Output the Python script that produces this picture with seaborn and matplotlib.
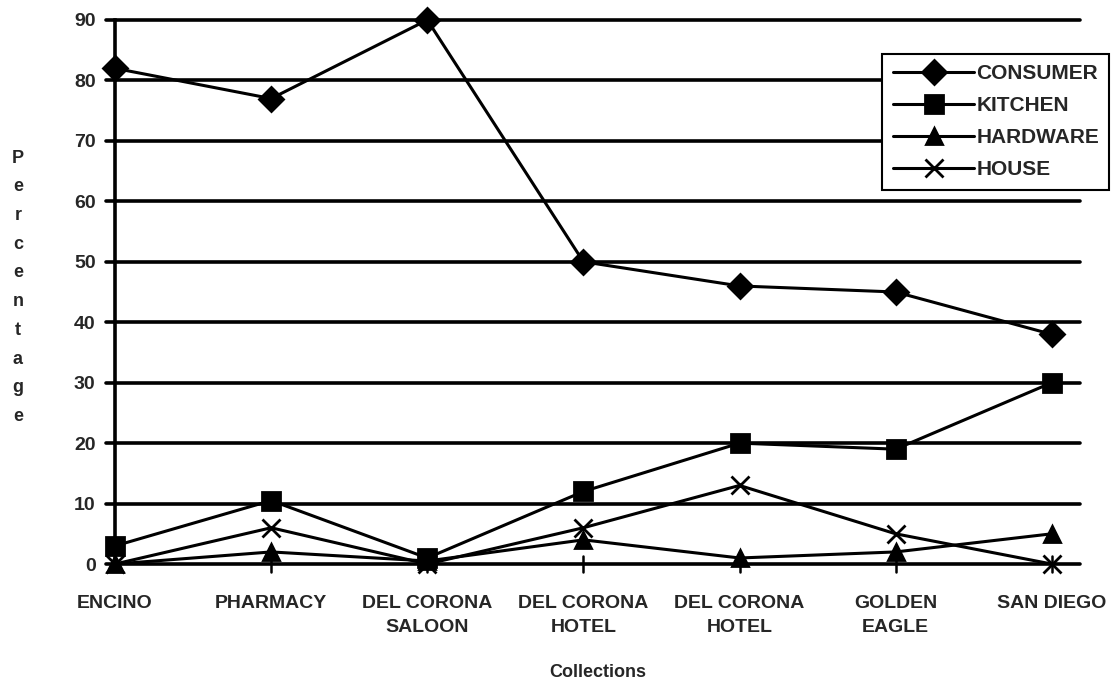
import pandas as pd
import matplotlib.pyplot as plt
import seaborn as sns

collections = ['ENCINO', 'PHARMACY', 'DEL CORONA\nSALOON', 'DEL CORONA\nHOTEL',
               'DEL CORONA\nHOTEL', 'GOLDEN\nEAGLE', 'SAN DIEGO']
consumer = [82, 77, 90, 50, 46, 45, 38]
kitchen = [3, 10.5, 1, 12, 20, 19, 30]
hardware = [0, 2, 0.5, 4, 1, 2, 5]
house = [0, 6, 0, 6, 13, 5, 0]
series_names = ['CONSUMER', 'KITCHEN', 'HARDWARE', 'HOUSE']
marker_list = ['D', 's', '^', 'x']
marker_sizes = [12, 13, 12, 13]

sns.set_style('white')
plt.rcParams['font.family'] = ['Liberation Sans', 'DejaVu Sans']
plt.rcParams['font.weight'] = 'bold'

fig = plt.figure(figsize=(11.18, 6.84), dpi=100)
ax = fig.add_axes([0.1029, 0.1754, 0.863, 0.7954])

positions = list(range(len(collections)))
for name, vals, mk, ms in zip(series_names, [consumer, kitchen, hardware, house],
                              marker_list, marker_sizes):
    sns.lineplot(x=positions, y=vals, color='black', marker=mk, markersize=ms,
                 markeredgewidth=2, markeredgecolor='black', linewidth=2.2,
                 label=name, ax=ax, clip_on=False, zorder=3)

for y in range(0, 100, 10):
    ax.axhline(y, color='black', linewidth=2.6, zorder=1, clip_on=False,
               xmin=-0.009, xmax=1)

ax.set_xlim(0, 6.18)
ax.set_ylim(0, 90)
ax.set_yticks(range(0, 100, 10))
ax.set_xticks(positions)
ax.set_xticklabels(collections, fontsize=14, fontweight='bold', linespacing=1.55)
ax.tick_params(axis='y', labelsize=14, length=0, pad=14)
ax.tick_params(axis='x', length=0, pad=22)
for lbl in ax.get_yticklabels():
    lbl.set_fontweight('bold')

for s in ['top', 'right', 'bottom']:
    ax.spines[s].set_visible(False)
ax.spines['left'].set_linewidth(2.6)
ax.spines['left'].set_color('black')

# small tick marks on the zero line
for i in positions[1:]:
    ax.plot([i, i], [-1.3, 1.3], color='black', linewidth=1.8, zorder=2, clip_on=False)

ax.set_xlabel('Collections', fontsize=13, fontweight='bold', labelpad=20)
ax.set_ylabel('')
fig.text(0.016, 0.58, '\n'.join('Percentage'), fontsize=13, fontweight='bold',
         ha='center', va='center', linespacing=1.9)

leg = ax.legend(loc='upper right', bbox_to_anchor=(1.0306, 0.9375), frameon=True,
                fancybox=False, edgecolor='black', framealpha=1,
                prop={'size': 15, 'weight': 'bold'}, handlelength=3.9,
                handletextpad=0.1, labelspacing=0.62, borderpad=0.5,
                borderaxespad=0)
leg.get_frame().set_linewidth(1.5)

plt.savefig('out.png', dpi=100)
